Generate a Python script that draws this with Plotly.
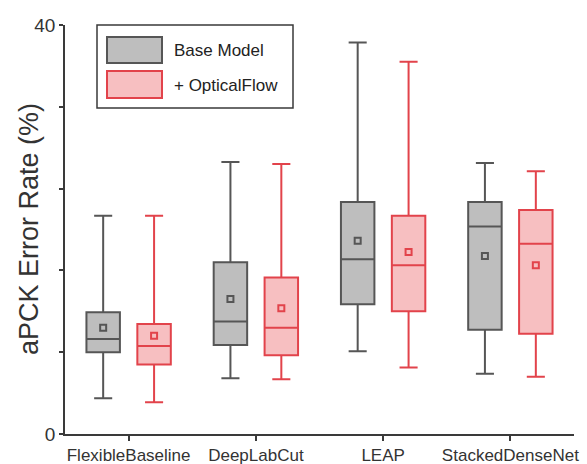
import plotly.graph_objects as go

categories = ["FlexibleBaseline", "DeepLabCut", "LEAP", "StackedDenseNet"]
series_names = ["Base Model", "+ OpticalFlow"]
y_title = "aPCK Error Rate (%)"

base_lower = [3.5, 5.45, 8.1, 5.9]
base_q1 = [8.0, 8.7, 12.7, 10.2]
base_median = [9.3, 11.0, 17.1, 20.3]
base_q3 = [11.9, 16.8, 22.7, 22.7]
base_upper = [21.35, 26.6, 38.3, 26.5]
base_mean = [10.4, 13.2, 18.9, 17.4]

flow_lower = [3.1, 5.35, 6.5, 5.6]
flow_q1 = [6.8, 7.7, 12.0, 9.8]
flow_median = [8.6, 10.4, 16.5, 18.6]
flow_q3 = [10.75, 15.3, 21.35, 21.9]
flow_upper = [21.35, 26.4, 36.4, 25.7]
flow_mean = [9.6, 12.3, 17.8, 16.5]

y_ticks = [0, 8, 16, 24, 32, 40]
y_ticktext = ["0", "", "", "", "", "40"]

GRAY_LINE = "#565656"
GRAY_FILL = "#bebebe"
RED_LINE = "#e2434b"
RED_FILL = "#f7bfc1"
AX = "#3a3a3a"
FONT = "Liberation Sans, Arial, sans-serif"

offset = 0.2
idx = list(range(len(categories)))
x_base = [i - offset for i in idx]
x_flow = [i + offset for i in idx]

fig = go.Figure()

for name, xs, lo, q1, med, q3, up, lc, fc in [
    (series_names[0], x_base, base_lower, base_q1, base_median, base_q3, base_upper, GRAY_LINE, GRAY_FILL),
    (series_names[1], x_flow, flow_lower, flow_q1, flow_median, flow_q3, flow_upper, RED_LINE, RED_FILL),
]:
    fig.add_trace(go.Box(
        name=name, x=xs, q1=q1, median=med, q3=q3,
        lowerfence=lo, upperfence=up,
        boxpoints=False, width=0.263, whiskerwidth=0.54,
        line=dict(color=lc, width=2), fillcolor=fc, showlegend=False,
        hoverinfo="skip",
    ))

for xs, means, lc, fc in [(x_base, base_mean, GRAY_LINE, GRAY_FILL), (x_flow, flow_mean, RED_LINE, RED_FILL)]:
    fig.add_trace(go.Scatter(
        x=xs, y=means, mode="markers", showlegend=False,
        marker=dict(symbol="square", size=6, color=fc, line=dict(color=lc, width=2)),
    ))

# plot area in pixels: x 65..574, y 25..434
L, R, T, B = 65, 574, 25, 434

def px(X):
    return (X - L) / (R - L)

def py(Y):
    return (B - Y) / (B - T)

shapes = [
    dict(type="rect", xref="paper", yref="paper", x0=px(97), x1=px(293), y0=py(108), y1=py(25),
         line=dict(color=AX, width=1.5), fillcolor="white", layer="above"),
    dict(type="rect", xref="paper", yref="paper", x0=px(107), x1=px(162), y0=py(63), y1=py(37),
         line=dict(color=GRAY_LINE, width=2), fillcolor=GRAY_FILL, layer="above"),
    dict(type="rect", xref="paper", yref="paper", x0=px(107), x1=px(162), y0=py(98), y1=py(71),
         line=dict(color=RED_LINE, width=2), fillcolor=RED_FILL, layer="above"),
]
annotations = [
    dict(xref="paper", yref="paper", x=px(172), y=py(50), text=series_names[0], showarrow=False,
         xanchor="left", yanchor="middle", font=dict(family=FONT, size=17, color="#222")),
    dict(xref="paper", yref="paper", x=px(172), y=py(85), text=series_names[1], showarrow=False,
         xanchor="left", yanchor="middle", font=dict(family=FONT, size=17, color="#222")),
    dict(xref="paper", yref="paper", x=px(29), y=py(229), text=y_title, showarrow=False,
         textangle=-90, xanchor="center", yanchor="middle",
         font=dict(family=FONT, size=27, color="#333")),
]

fig.update_layout(
    width=587, height=464,
    margin=dict(l=L, r=587 - R, t=T, b=464 - B),
    paper_bgcolor="white", plot_bgcolor="white",
    font=dict(family=FONT, color="#333"),
    shapes=shapes, annotations=annotations,
    showlegend=False,
    xaxis=dict(
        range=[-0.5, 3.5], tickmode="array", automargin=False,
        tickvals=idx, ticktext=categories,
        showline=True, linecolor=AX, linewidth=1.5, ticks="outside", ticklen=5,
        tickcolor=AX, tickwidth=1.5, showgrid=False, zeroline=False,
        tickfont=dict(family=FONT, size=17, color="#333"),
    ),
    yaxis=dict(
        range=[0, 40], tickmode="array", tickvals=y_ticks, ticktext=y_ticktext, automargin=False,
        showline=True, linecolor=AX, linewidth=1.5, ticks="outside", ticklen=4,
        tickcolor=AX, tickwidth=1.5, showgrid=False, zeroline=False,
        tickfont=dict(family=FONT, size=19, color="#333"),
    ),
)

fig.write_html("out.html")
